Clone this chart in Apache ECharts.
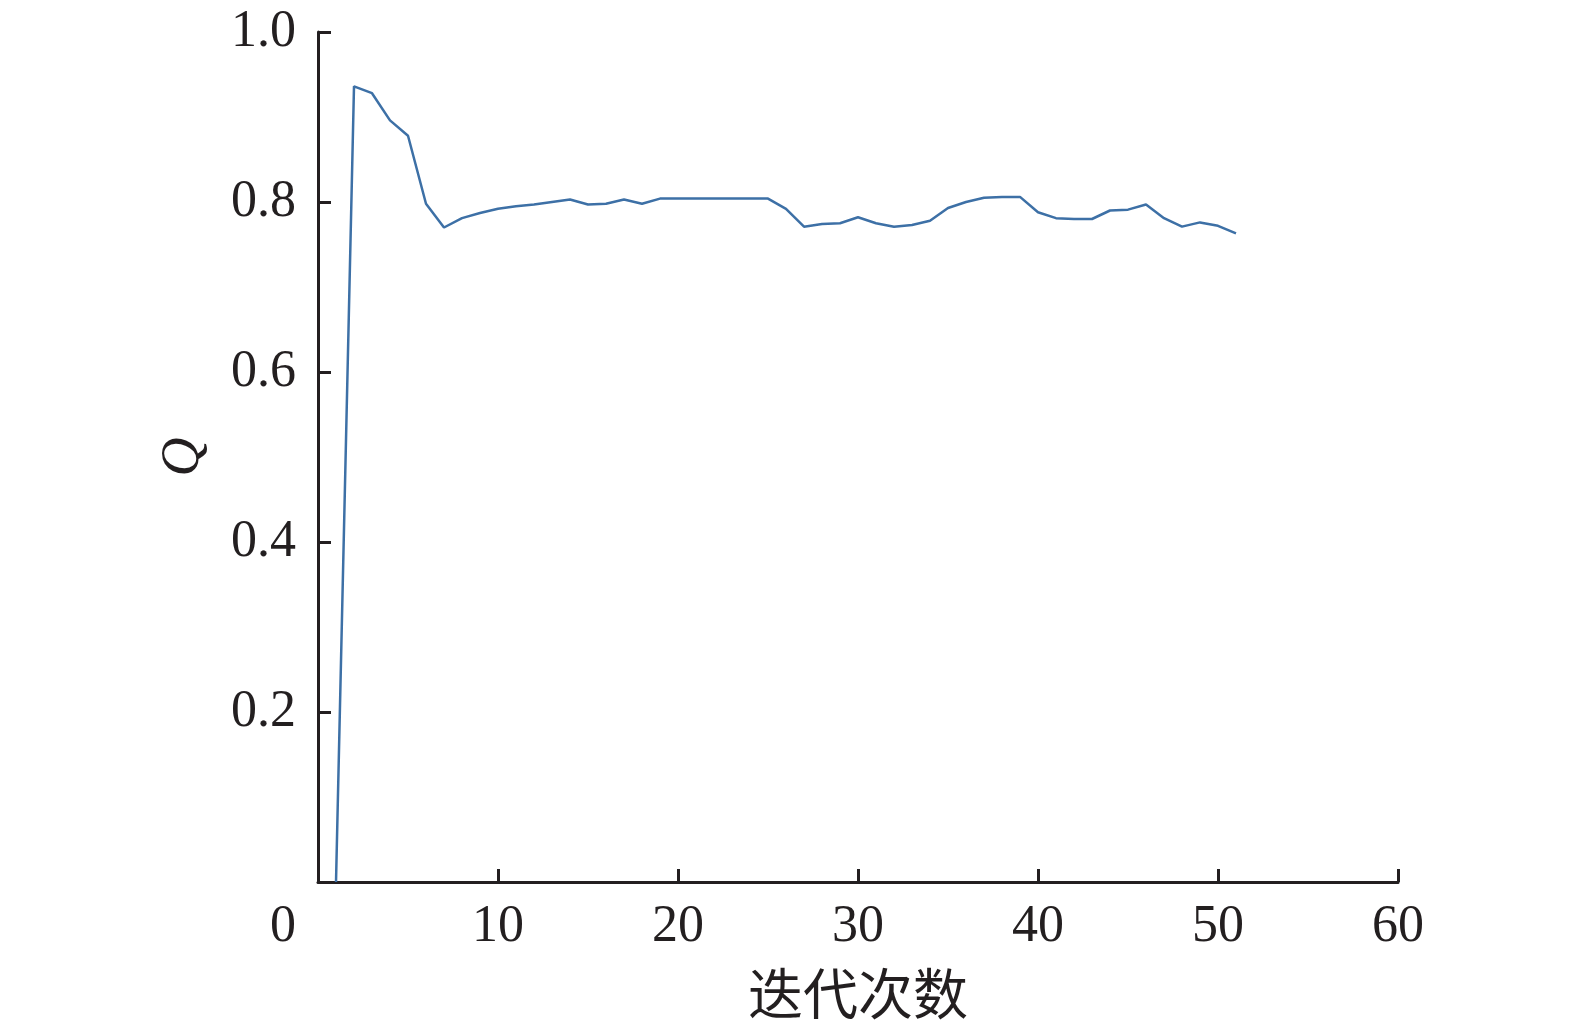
<!DOCTYPE html>
<html>
<head>
<meta charset="utf-8">
<script src="https://cdn.jsdelivr.net/npm/echarts@6/dist/echarts.min.js"></script>
<style>
html,body{margin:0;padding:0;background:#fff;}
#c{width:1575px;height:1032px;}
</style>
</head>
<body>
<div id="c"></div>
<script>
const iterations = [1,2,3,4,5,6,7,8,9,10,11,12,13,14,15,16,17,18,19,20,21,22,23,24,25,26,27,28,29,30,31,32,33,34,35,36,37,38,39,40,41,42,43,44,45,46,47,48,49,50,51];
const qValues = [0,0.936,0.928,0.896,0.878,0.798,0.770,0.781,0.787,0.792,0.795,0.797,0.800,0.803,0.797,0.798,0.803,0.798,0.804,0.804,0.804,0.804,0.804,0.804,0.804,0.792,0.771,0.774,0.775,0.782,0.775,0.771,0.773,0.778,0.793,0.800,0.805,0.806,0.806,0.788,0.781,0.780,0.780,0.790,0.791,0.797,0.781,0.771,0.776,0.772,0.763];
const xTicks = [0,10,20,30,40,50,60];
const yTicks = [0,0.2,0.4,0.6,0.8,1.0];

const chart = echarts.init(document.getElementById('c'), null, {renderer:'canvas'});
const serif = '"Liberation Serif","Times New Roman",serif';
const axisLine = {show:true, onZero:false, lineStyle:{color:'#231f20', width:3}};
chart.setOption({
  animation:false,
  backgroundColor:'#fff',
  grid:{left:318, right:177, top:32, bottom:150, containLabel:false, outerBoundsMode:'none'},
  xAxis:{
    type:'value', min:xTicks[0], max:xTicks[xTicks.length-1], interval:10,
    name:'迭代次数', nameLocation:'middle', nameGap:84,
    nameTextStyle:{fontFamily:'"Noto Sans CJK SC",sans-serif', fontSize:55, color:'#231f20'},
    axisLine:axisLine,
    axisTick:{show:true, inside:true, length:13, lineStyle:{color:'#231f20', width:3}},
    axisLabel:{fontFamily:serif, fontSize:52, color:'#231f20', margin:19,
      formatter:function(v){ return v===0 ? '{z|0}' : String(v); },
      rich:{z:{fontFamily:serif, fontSize:52, color:'#231f20', padding:[0,70,0,0]}}},
    splitLine:{show:false}
  },
  yAxis:{
    type:'value', min:yTicks[0], max:yTicks[yTicks.length-1], interval:0.2,
    name:'Q', nameLocation:'middle', nameGap:107, nameRotate:90,
    nameTextStyle:{fontFamily:serif, fontStyle:'italic', fontSize:54, color:'#231f20'},
    axisLine:axisLine,
    axisTick:{show:true, inside:true, length:13, lineStyle:{color:'#231f20', width:3}},
    axisLabel:{fontFamily:serif, fontSize:52, color:'#231f20', margin:22,
      formatter:function(v){ return v===0 ? '' : v.toFixed(1); }},
    splitLine:{show:false}
  },
  series:[{
    type:'line',
    data:iterations.map((x,i)=>[x,qValues[i]]),
    showSymbol:false,
    smooth:false,
    lineStyle:{color:'#3d70a6', width:2.5},
    itemStyle:{color:'#3d70a6'}
  }]
});
</script>
</body>
</html>
